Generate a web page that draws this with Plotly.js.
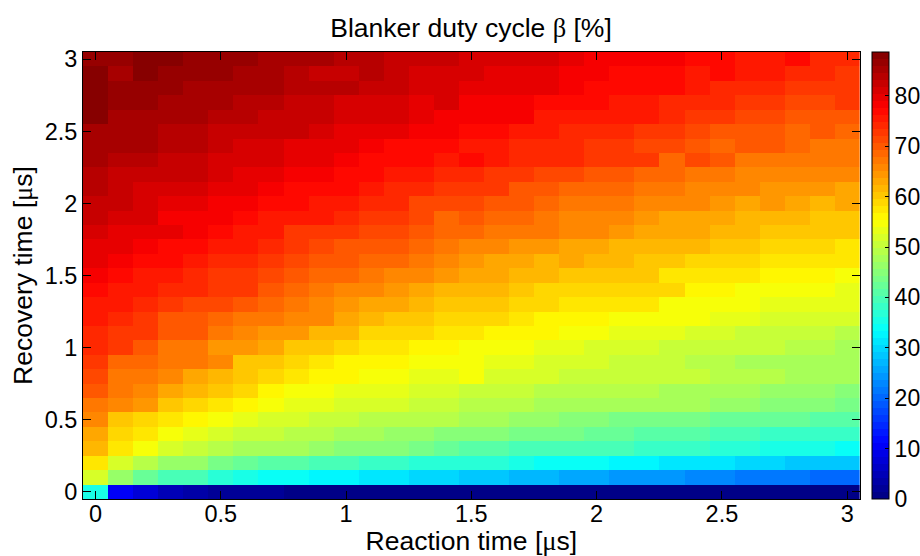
<!DOCTYPE html>
<html>
<head>
<meta charset="utf-8">
<script src="https://cdn.plot.ly/plotly-3.0.1.min.js"></script>
<style>html,body{margin:0;padding:0;background:#fff}</style>
</head>
<body>
<div id="chart" style="width:920px;height:556px"></div>
<script>
var reactionTimes = [0,0.1,0.2,0.3,0.4,0.5,0.6,0.7,0.8,0.9,1,1.1,1.2,1.3,1.4,1.5,1.6,1.7,1.8,1.9,2,2.1,2.2,2.3,2.4,2.5,2.6,2.7,2.8,2.9,3];
var recoveryTimes = [0,0.1,0.2,0.3,0.4,0.5,0.6,0.7,0.8,0.9,1,1.1,1.2,1.3,1.4,1.5,1.6,1.7,1.8,1.9,2,2.1,2.2,2.3,2.4,2.5,2.6,2.7,2.8,2.9,3];
var xTickVals = [0,0.5,1,1.5,2,2.5,3];
var xTickText = ["0","0.5","1","1.5","2","2.5","3"];
var cbTickVals = [0,10,20,30,40,50,60,70,80];

var r300=[86.6,86.6,88,88,86.6,86.6,86.6,85.2,85.2,85.2,83.9,83.9,82.5,82.5,82.5,81.1,81.1,81.1,81.1,79.7,78.3,78.3,78.3,78.3,76.9,76.9,75.5,75.5,76.9,74.2,74.2];
var r290=[88,85.2,88,86.6,86.6,86.6,85.2,85.2,83.9,82.5,82.5,83.9,82.5,81.1,81.1,81.1,79.7,79.7,79.7,78.3,78.3,76.9,76.9,76.9,75.5,76.9,75.5,75.5,74.2,74.2,72.8];
var r280=[88,86.6,86.6,86.6,85.2,85.2,85.2,85.2,83.9,83.9,83.9,82.5,82.5,81.1,81.1,79.7,79.7,79.7,79.7,78.3,76.9,76.9,76.9,76.9,75.5,74.2,74.2,74.2,72.8,72.8,72.8];
var r270=[88,86.6,86.6,85.2,85.2,85.2,83.9,83.9,82.5,82.5,81.1,81.1,81.1,79.7,81.1,78.3,78.3,78.3,76.9,76.9,76.9,75.5,75.5,74.2,74.2,74.2,72.8,72.8,71.4,71.4,72.8];
var r260=[88,85.2,85.2,85.2,85.2,83.9,83.9,82.5,82.5,82.5,81.1,81.1,81.1,79.7,78.3,78.3,78.3,78.3,75.5,75.5,75.5,75.5,75.5,74.2,72.8,72.8,71.4,71.4,70,70,70];
var r250=[85.2,85.2,85.2,83.9,83.9,82.5,82.5,82.5,82.5,81.1,79.7,79.7,79.7,78.3,78.3,76.9,76.9,75.5,75.5,74.2,74.2,74.2,72.8,72.8,71.4,70,70,70,68.6,70,68.6];
var r240=[85.2,85.2,85.2,83.9,83.9,82.5,81.1,81.1,79.7,79.7,79.7,78.3,76.9,76.9,76.9,75.5,75.5,74.2,74.2,74.2,72.8,72.8,71.4,71.4,70,68.6,70,70,68.6,67.2,67.2];
var r230=[85.2,83.9,83.9,82.5,82.5,81.1,81.1,81.1,79.7,79.7,78.3,76.9,76.9,76.9,75.5,76.9,75.5,74.2,74.2,74.2,72.8,72.8,72.8,68.6,71.4,70,67.2,67.2,67.2,67.2,67.2];
var r220=[83.9,82.5,82.5,82.5,82.5,81.1,79.7,79.7,78.3,78.3,76.9,76.9,75.5,75.5,74.2,74.2,72.8,72.8,71.4,71.4,70,70,68.6,68.6,67.2,67.2,65.8,65.8,65.8,65.8,65.8];
var r210=[83.9,82.5,81.1,81.1,81.1,79.7,79.7,78.3,76.9,76.9,76.9,75.5,74.2,74.2,72.8,72.8,72.8,70,70,68.6,68.6,68.6,67.2,67.2,65.8,65.8,65.8,64.5,64.5,64.5,63.1];
var r200=[82.5,82.5,81.1,79.7,79.7,78.3,78.3,76.9,76.9,75.5,75.5,74.2,74.2,71.4,71.4,71.4,70,70,68.6,67.2,67.2,67.2,65.8,65.8,65.8,64.5,63.1,64.5,63.1,61.7,63.1];
var r190=[82.5,81.1,81.1,78.3,78.3,78.3,76.9,75.5,75.5,75.5,74.2,72.8,72.8,71.4,68.6,70,68.6,68.6,67.2,65.8,65.8,65.8,64.5,63.1,63.1,63.1,61.7,61.7,61.7,60.3,60.3];
var r180=[81.1,79.7,79.7,79.7,78.3,76.9,75.5,75.5,72.8,72.8,72.8,71.4,71.4,70,68.6,68.6,67.2,67.2,67.2,65.8,65.8,64.5,63.1,63.1,63.1,61.7,61.7,60.3,60.3,60.3,60.3];
var r170=[79.7,79.7,78.3,76.9,76.9,75.5,75.5,74.2,72.8,71.4,70,70,70,68.6,67.2,65.8,65.8,64.5,64.5,63.1,63.1,61.7,61.7,61.7,61.7,60.3,60.3,58.9,58.9,58.9,57.5];
var r160=[79.7,78.3,76.9,76.9,75.5,74.2,74.2,72.8,71.4,70,70,68.6,68.6,67.2,65.8,64.5,63.1,63.1,61.7,63.1,61.7,61.7,60.3,60.3,58.9,58.9,58.9,57.5,57.5,57.5,57.5];
var r150=[78.3,76.9,75.5,75.5,74.2,72.8,72.8,71.4,70,68.6,68.6,67.2,65.8,65.8,64.5,63.1,63.1,61.7,61.7,60.3,60.3,60.3,60.3,57.5,57.5,57.5,57.5,56.1,56.1,56.1,54.7];
var r140=[76.9,75.5,75.5,74.2,74.2,72.8,72.8,70,68.6,67.2,65.8,65.8,64.5,63.1,61.7,61.7,61.7,60.3,58.9,58.9,58.9,58.9,58.9,58.9,56.1,56.1,54.7,54.7,54.7,54.7,53.4];
var r130=[75.5,75.5,74.2,72.8,71.4,71.4,70,68.6,67.2,65.8,64.5,63.1,63.1,61.7,60.3,60.3,60.3,58.9,58.9,57.5,57.5,57.5,57.5,54.7,54.7,54.7,54.7,53.4,53.4,53.4,53.4];
var r120=[75.5,74.2,72.8,70,70,68.6,67.2,67.2,65.8,65.8,63.1,61.7,60.3,60.3,58.9,58.9,58.9,57.5,56.1,56.1,56.1,54.7,54.7,54.7,54.7,53.4,53.4,52,52,52,52];
var r110=[74.2,72.8,72.8,70,70,67.2,65.8,64.5,64.5,61.7,61.7,58.9,58.9,58.9,57.5,57.5,56.1,56.1,56.1,54.7,54.7,53.4,53.4,53.4,52,52,50.6,50.6,50.6,50.6,49.2];
var r100=[74.2,72.8,70,67.2,67.2,64.5,64.5,63.1,60.3,60.3,58.9,57.5,57.5,56.1,56.1,54.7,54.7,54.7,53.4,53.4,52,52,52,50.6,50.6,50.6,50.6,50.6,49.2,49.2,47.8];
var r090=[72.8,68.6,68.6,67.2,67.2,65.8,60.3,60.3,58.9,57.5,56.1,56.1,56.1,54.7,54.7,54.7,53.4,53.4,52,52,52,50.6,50.6,50.6,49.2,49.2,47.8,47.8,47.8,47.8,47.8];
var r080=[71.4,67.2,67.2,65.8,63.1,61.7,60.3,58.9,57.5,56.1,56.1,54.7,54.7,53.4,53.4,54.7,52,52,52,50.6,50.6,50.6,50.6,50.6,50.6,49.2,49.2,49.2,47.8,47.8,47.8];
var r070=[70,67.2,65.8,63.1,61.7,60.3,58.9,56.1,54.7,54.7,53.4,53.4,53.4,52,52,50.6,50.6,50.6,49.2,49.2,49.2,49.2,49.2,47.8,47.8,47.8,47.8,46.4,46.4,46.4,45];
var r060=[67.2,65.8,64.5,60.3,58.9,57.5,56.1,54.7,53.4,53.4,52,52,52,50.6,50.6,49.2,49.2,49.2,47.8,47.8,47.8,47.8,47.8,47.8,47.8,46.4,46.4,45,45,45,43.7];
var r050=[65.8,60.3,58.9,57.5,56.1,54.7,53.4,52,52,50.6,50.6,49.2,49.2,49.2,49.2,47.8,47.8,46.4,46.4,45,45,43.7,43.7,43.7,43.7,42.3,42.3,42.3,42.3,40.9,40.9];
var r040=[63.1,58.9,57.5,54.7,53.4,52,50.6,50.6,49.2,49.2,47.8,47.8,46.4,46.4,45,45,45,43.7,43.7,43.7,42.3,42.3,40.9,40.9,40.9,39.5,39.5,38.1,38.1,38.1,38.1];
var r030=[61.7,57.5,54.7,52,50.6,49.2,47.8,47.8,47.8,46.4,45,45,45,43.7,42.3,40.9,40.9,39.5,39.5,39.5,39.5,39.5,38.1,38.1,38.1,36.7,36.7,35.3,35.3,35.3,34];
var r020=[57.5,52,49.2,46.4,46.4,43.7,42.3,40.9,40.9,39.5,39.5,38.1,38.1,36.7,36.7,36.7,36.7,35.3,34,34,34,32.6,32.6,31.2,31.2,31.2,29.8,29.8,28.4,28.4,28.4];
var r010=[52,46.4,42.3,39.5,39.5,36.7,35.3,34,34,32.6,32.6,31.2,31.2,29.8,29.8,28.4,28.4,27,27,25.6,25.6,24.3,24.3,24.3,22.9,22.9,21.5,21.5,21.5,20.1,20.1];
var r000=[35.3,10.4,7.6,4.9,3.5,2.1,2.1,2.1,0.7,0.7,0.7,0.7,0.7,0.7,0.7,0.7,0.7,0.7,0.7,0.7,0.7,0.7,0.7,0.7,0.7,0.7,0.7,0.7,0.7,0.7,0.7];

var dutyCycle = [r000,r010,r020,r030,r040,r050,r060,r070,r080,r090,r100,r110,r120,r130,r140,r150,r160,r170,r180,r190,r200,r210,r220,r230,r240,r250,r260,r270,r280,r290,r300];

// MATLAB "jet" colormap with 64 discrete levels
function jetStops(n){
  var stops=[];
  function ch(t){return Math.round(255*Math.max(0,Math.min(1,1.5-Math.abs(t))));}
  for(var i=0;i<n;i++){
    var f=(i+0.5)/n*4;
    var c='rgb('+ch(f-3)+','+ch(f-2)+','+ch(f-1)+')';
    stops.push([i/n,c]);stops.push([(i+1)/n,c]);
  }
  return stops;
}

var W=920, H=556;
var plotL=83, plotR=859.7, plotT=52, plotB=499.3, barL=872;
var fullR=889;
var serif='font-family:Liberation Serif';
var tickFont={family:'"Liberation Sans",Arial,sans-serif',size:23.5,color:'#000'};
var barFont={family:'"Liberation Sans",Arial,sans-serif',size:23,color:'#000'};
var titleFont={family:'"Liberation Sans",Arial,sans-serif',size:26.5,color:'#000'};

var trace={
  type:'heatmap',
  x:reactionTimes,
  y:recoveryTimes,
  z:dutyCycle,
  zmin:0,zmax:88.7,
  colorscale:jetStops(64),
  colorbar:{
    thickness:17,thicknessmode:'pixels',
    len:1,lenmode:'fraction',
    x:(barL-plotL)/(fullR-plotL),xanchor:'left',xpad:0,
    y:0,yanchor:'bottom',ypad:0,
    outlinewidth:1,outlinecolor:'#000',borderwidth:0,
    tickmode:'array',tickvals:cbTickVals,
    ticks:'inside',ticklen:4,tickcolor:'#000',tickwidth:1,
    tickfont:barFont
  }
};

var layout={
  width:W,height:H,
  paper_bgcolor:'#fff',plot_bgcolor:'#fff',
  margin:{l:plotL,r:W-fullR,t:plotT,b:H-plotB,pad:0,autoexpand:false},
  title:{text:'Blanker duty cycle <span style="'+serif+'">β</span> [%]',font:titleFont,x:471/W,xanchor:'center',xref:'container',y:1-28/H,yanchor:'middle',yref:'container'},
  xaxis:{
    domain:[0,(plotR-plotL)/(fullR-plotL)],
    range:[-0.05,3.05],
    tickmode:'array',tickvals:xTickVals,ticktext:xTickText,
    ticks:'inside',ticklen:8,tickcolor:'#000',tickwidth:1,
    showline:true,linecolor:'#000',linewidth:1,mirror:'ticks',
    showgrid:false,zeroline:false,
    tickfont:tickFont,ticklabelstandoff:-6,
    title:{text:'Reaction time [<span style="'+serif+'">μ</span>s]',font:titleFont,standoff:3}
  },
  yaxis:{
    range:[-0.05,3.05],
    tickmode:'array',tickvals:xTickVals,ticktext:xTickText,
    ticks:'inside',ticklen:8,tickcolor:'#000',tickwidth:1,
    showline:true,linecolor:'#000',linewidth:1,mirror:'ticks',
    showgrid:false,zeroline:false,
    tickfont:tickFont,
    title:{text:'Recovery time [<span style="'+serif+'">μ</span>s]',font:titleFont,standoff:4}
  }
};
Plotly.newPlot('chart',[trace],layout,{displayModeBar:false,staticPlot:true});
</script>
</body>
</html>
